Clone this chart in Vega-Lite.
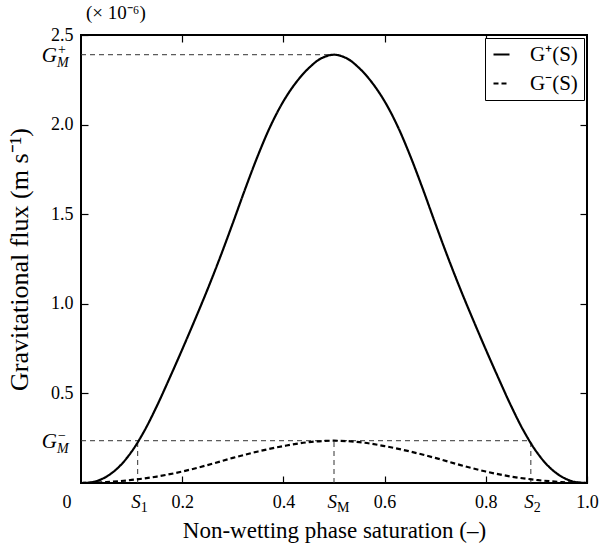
{
  "$schema": "https://vega.github.io/schema/vega-lite/v6.json",
  "width": 506,
  "height": 448,
  "autosize": {"type": "none"},
  "padding": {"left": 81, "top": 35, "right": 13, "bottom": 67},
  "datasets": {
    "curves": [
      {"S": 0, "G": 0, "series": "G⁺(S)"},
      {"S": 0.025, "G": 0.006, "series": "G⁺(S)"},
      {"S": 0.05, "G": 0.035, "series": "G⁺(S)"},
      {"S": 0.075, "G": 0.09, "series": "G⁺(S)"},
      {"S": 0.1, "G": 0.175, "series": "G⁺(S)"},
      {"S": 0.125, "G": 0.29, "series": "G⁺(S)"},
      {"S": 0.15, "G": 0.43, "series": "G⁺(S)"},
      {"S": 0.175, "G": 0.585, "series": "G⁺(S)"},
      {"S": 0.2, "G": 0.745, "series": "G⁺(S)"},
      {"S": 0.225, "G": 0.91, "series": "G⁺(S)"},
      {"S": 0.25, "G": 1.08, "series": "G⁺(S)"},
      {"S": 0.275, "G": 1.26, "series": "G⁺(S)"},
      {"S": 0.3, "G": 1.45, "series": "G⁺(S)"},
      {"S": 0.325, "G": 1.645, "series": "G⁺(S)"},
      {"S": 0.35, "G": 1.83, "series": "G⁺(S)"},
      {"S": 0.375, "G": 1.995, "series": "G⁺(S)"},
      {"S": 0.4, "G": 2.13, "series": "G⁺(S)"},
      {"S": 0.425, "G": 2.235, "series": "G⁺(S)"},
      {"S": 0.45, "G": 2.315, "series": "G⁺(S)"},
      {"S": 0.475, "G": 2.37, "series": "G⁺(S)"},
      {"S": 0.5, "G": 2.39, "series": "G⁺(S)"},
      {"S": 0.525, "G": 2.37, "series": "G⁺(S)"},
      {"S": 0.55, "G": 2.315, "series": "G⁺(S)"},
      {"S": 0.575, "G": 2.235, "series": "G⁺(S)"},
      {"S": 0.6, "G": 2.13, "series": "G⁺(S)"},
      {"S": 0.625, "G": 1.995, "series": "G⁺(S)"},
      {"S": 0.65, "G": 1.83, "series": "G⁺(S)"},
      {"S": 0.675, "G": 1.645, "series": "G⁺(S)"},
      {"S": 0.7, "G": 1.45, "series": "G⁺(S)"},
      {"S": 0.725, "G": 1.26, "series": "G⁺(S)"},
      {"S": 0.75, "G": 1.08, "series": "G⁺(S)"},
      {"S": 0.775, "G": 0.91, "series": "G⁺(S)"},
      {"S": 0.8, "G": 0.745, "series": "G⁺(S)"},
      {"S": 0.825, "G": 0.585, "series": "G⁺(S)"},
      {"S": 0.85, "G": 0.43, "series": "G⁺(S)"},
      {"S": 0.875, "G": 0.29, "series": "G⁺(S)"},
      {"S": 0.9, "G": 0.175, "series": "G⁺(S)"},
      {"S": 0.925, "G": 0.09, "series": "G⁺(S)"},
      {"S": 0.95, "G": 0.035, "series": "G⁺(S)"},
      {"S": 0.975, "G": 0.006, "series": "G⁺(S)"},
      {"S": 1, "G": 0, "series": "G⁺(S)"},
      {"S": 0, "G": 0, "series": "G⁻(S)"},
      {"S": 0.05, "G": 0.005, "series": "G⁻(S)"},
      {"S": 0.1, "G": 0.017, "series": "G⁻(S)"},
      {"S": 0.15, "G": 0.036, "series": "G⁻(S)"},
      {"S": 0.2, "G": 0.064, "series": "G⁻(S)"},
      {"S": 0.25, "G": 0.100, "series": "G⁻(S)"},
      {"S": 0.3, "G": 0.140, "series": "G⁻(S)"},
      {"S": 0.35, "G": 0.176, "series": "G⁻(S)"},
      {"S": 0.4, "G": 0.206, "series": "G⁻(S)"},
      {"S": 0.45, "G": 0.228, "series": "G⁻(S)"},
      {"S": 0.5, "G": 0.236, "series": "G⁻(S)"},
      {"S": 0.55, "G": 0.228, "series": "G⁻(S)"},
      {"S": 0.6, "G": 0.206, "series": "G⁻(S)"},
      {"S": 0.65, "G": 0.176, "series": "G⁻(S)"},
      {"S": 0.7, "G": 0.140, "series": "G⁻(S)"},
      {"S": 0.75, "G": 0.100, "series": "G⁻(S)"},
      {"S": 0.8, "G": 0.064, "series": "G⁻(S)"},
      {"S": 0.85, "G": 0.036, "series": "G⁻(S)"},
      {"S": 0.9, "G": 0.017, "series": "G⁻(S)"},
      {"S": 0.95, "G": 0.005, "series": "G⁻(S)"},
      {"S": 1, "G": 0, "series": "G⁻(S)"}
    ],
    "refs": [
      {"x1": 0, "x2": 0.5, "y1": 2.39, "y2": 2.39},
      {"x1": 0, "x2": 0.889, "y1": 0.236, "y2": 0.236},
      {"x1": 0.112, "x2": 0.112, "y1": 0, "y2": 0.236},
      {"x1": 0.5, "x2": 0.5, "y1": 0, "y2": 0.236},
      {"x1": 0.889, "x2": 0.889, "y1": 0, "y2": 0.236}
    ],
    "glabels": [
      {"x": 0, "y": 2.39, "sup": "+"},
      {"x": 0, "y": 0.236, "sup": "−"}
    ],
    "slabels": [
      {"x": 0.112, "y": 0, "sub": "1"},
      {"x": 0.5, "y": 0, "sub": "M"},
      {"x": 0.889, "y": 0, "sub": "2"}
    ],
    "zero": [{"x": 0, "y": 0, "t": "0"}],
    "note": [{"x": 0, "y": 2.5, "t": "(× 10⁻⁶)"}]
  },
  "layer": [
    {
      "data": {"name": "refs"},
      "mark": {"type": "rule", "color": "#333333", "strokeWidth": 1, "strokeDash": [5, 4]},
      "encoding": {
        "x": {"field": "x1", "type": "quantitative", "scale": {"domain": [0, 1], "nice": false}, "axis": null},
        "x2": {"field": "x2"},
        "y": {"field": "y1", "type": "quantitative", "scale": {"domain": [0, 2.5], "nice": false}, "axis": null},
        "y2": {"field": "y2"}
      }
    },
    {
      "data": {"name": "curves"},
      "mark": {"type": "line", "color": "black", "strokeWidth": 2.2, "interpolate": "catmull-rom"},
      "encoding": {
        "x": {"field": "S", "type": "quantitative", "axis": {
          "orient": "bottom", "values": [0.2, 0.4, 0.6, 0.8, 1], "format": ".1f",
          "labelFlush": false, "tickSize": -7, "labelPadding": 17,
          "title": "Non-wetting phase saturation (–)", "titleFontSize": 23, "titlePadding": 8}},
        "y": {"field": "G", "type": "quantitative", "axis": {
          "orient": "left", "values": [0.5, 1, 1.5, 2, 2.5], "format": ".1f",
          "labelFlush": false, "tickSize": -7, "labelPadding": 15,
          "title": "Gravitational flux (m s⁻¹)", "titleFontSize": 26, "titlePadding": 18}},
        "strokeDash": {"field": "series", "type": "nominal",
          "scale": {"domain": ["G⁺(S)", "G⁻(S)"], "range": [[1, 0], [5, 3]]},
          "legend": {"title": null}}
      }
    },
    {
      "data": {"name": "curves"},
      "mark": {"type": "line", "opacity": 0},
      "encoding": {
        "x": {"field": "S", "type": "quantitative", "axis": {"orient": "top", "values": [0.2, 0.4, 0.6, 0.8], "labels": false, "tickSize": -7, "title": null}},
        "y": {"field": "G", "type": "quantitative", "axis": {"orient": "right", "values": [0.5, 1, 1.5, 2], "labels": false, "tickSize": -7, "title": null}},
        "detail": {"field": "series"}
      }
    },
    {
      "data": {"name": "glabels"},
      "mark": {"type": "text", "text": "G", "align": "right", "baseline": "middle", "dx": -24, "dy": 1, "font": "Liberation Serif", "fontStyle": "italic", "fontSize": 21, "color": "black"},
      "encoding": {
        "x": {"field": "x", "type": "quantitative", "axis": null},
        "y": {"field": "y", "type": "quantitative", "axis": null}
      }
    },
    {
      "data": {"name": "glabels"},
      "mark": {"type": "text", "align": "left", "baseline": "middle", "dx": -23, "dy": -5, "font": "Liberation Serif", "fontSize": 14, "color": "black"},
      "encoding": {
        "x": {"field": "x", "type": "quantitative", "axis": null},
        "y": {"field": "y", "type": "quantitative", "axis": null},
        "text": {"field": "sup"}
      }
    },
    {
      "data": {"name": "glabels"},
      "mark": {"type": "text", "text": "M", "align": "left", "baseline": "middle", "dx": -24, "dy": 8, "font": "Liberation Serif", "fontStyle": "italic", "fontSize": 14, "color": "black"},
      "encoding": {
        "x": {"field": "x", "type": "quantitative", "axis": null},
        "y": {"field": "y", "type": "quantitative", "axis": null}
      }
    },
    {
      "data": {"name": "slabels"},
      "mark": {"type": "text", "text": "S", "align": "right", "baseline": "alphabetic", "dx": 3, "dy": 25, "font": "Liberation Serif", "fontStyle": "italic", "fontSize": 19, "color": "black"},
      "encoding": {
        "x": {"field": "x", "type": "quantitative", "axis": null},
        "y": {"field": "y", "type": "quantitative", "axis": null}
      }
    },
    {
      "data": {"name": "slabels"},
      "mark": {"type": "text", "align": "left", "baseline": "alphabetic", "dx": 3, "dy": 29, "font": "Liberation Serif", "fontSize": 14, "color": "black"},
      "encoding": {
        "x": {"field": "x", "type": "quantitative", "axis": null},
        "y": {"field": "y", "type": "quantitative", "axis": null},
        "text": {"field": "sub"}
      }
    },
    {
      "data": {"name": "zero"},
      "mark": {"type": "text", "align": "center", "baseline": "alphabetic", "dx": -14, "dy": 25, "font": "Liberation Serif", "fontSize": 18, "color": "black"},
      "encoding": {
        "x": {"field": "x", "type": "quantitative", "axis": null},
        "y": {"field": "y", "type": "quantitative", "axis": null},
        "text": {"field": "t"}
      }
    },
    {
      "data": {"name": "note"},
      "mark": {"type": "text", "align": "left", "baseline": "alphabetic", "dx": 5, "dy": -16, "font": "Liberation Serif", "fontSize": 19, "color": "black"},
      "encoding": {
        "x": {"field": "x", "type": "quantitative", "axis": null},
        "y": {"field": "y", "type": "quantitative", "axis": null},
        "text": {"field": "t"}
      }
    }
  ],
  "resolve": {"axis": {"x": "independent", "y": "independent"}},
  "config": {
    "view": {"stroke": "black", "strokeWidth": 2},
    "axis": {
      "domain": false, "grid": false,
      "labelFont": "Liberation Serif", "labelFontSize": 18, "labelColor": "black",
      "titleFont": "Liberation Serif", "titleFontSize": 22, "titleFontWeight": "normal", "titleColor": "black",
      "tickColor": "black", "tickWidth": 1.2
    },
    "legend": {
      "orient": "top-right", "offset": 3, "strokeColor": "black", "fillColor": "white", "padding": 6,
      "labelFont": "Liberation Serif", "labelFontSize": 21, "labelColor": "black",
      "symbolType": "stroke", "symbolStrokeWidth": 2, "symbolSize": 256, "symbolStrokeColor": "black",
      "rowPadding": 7, "labelOffset": 18
    }
  }
}
